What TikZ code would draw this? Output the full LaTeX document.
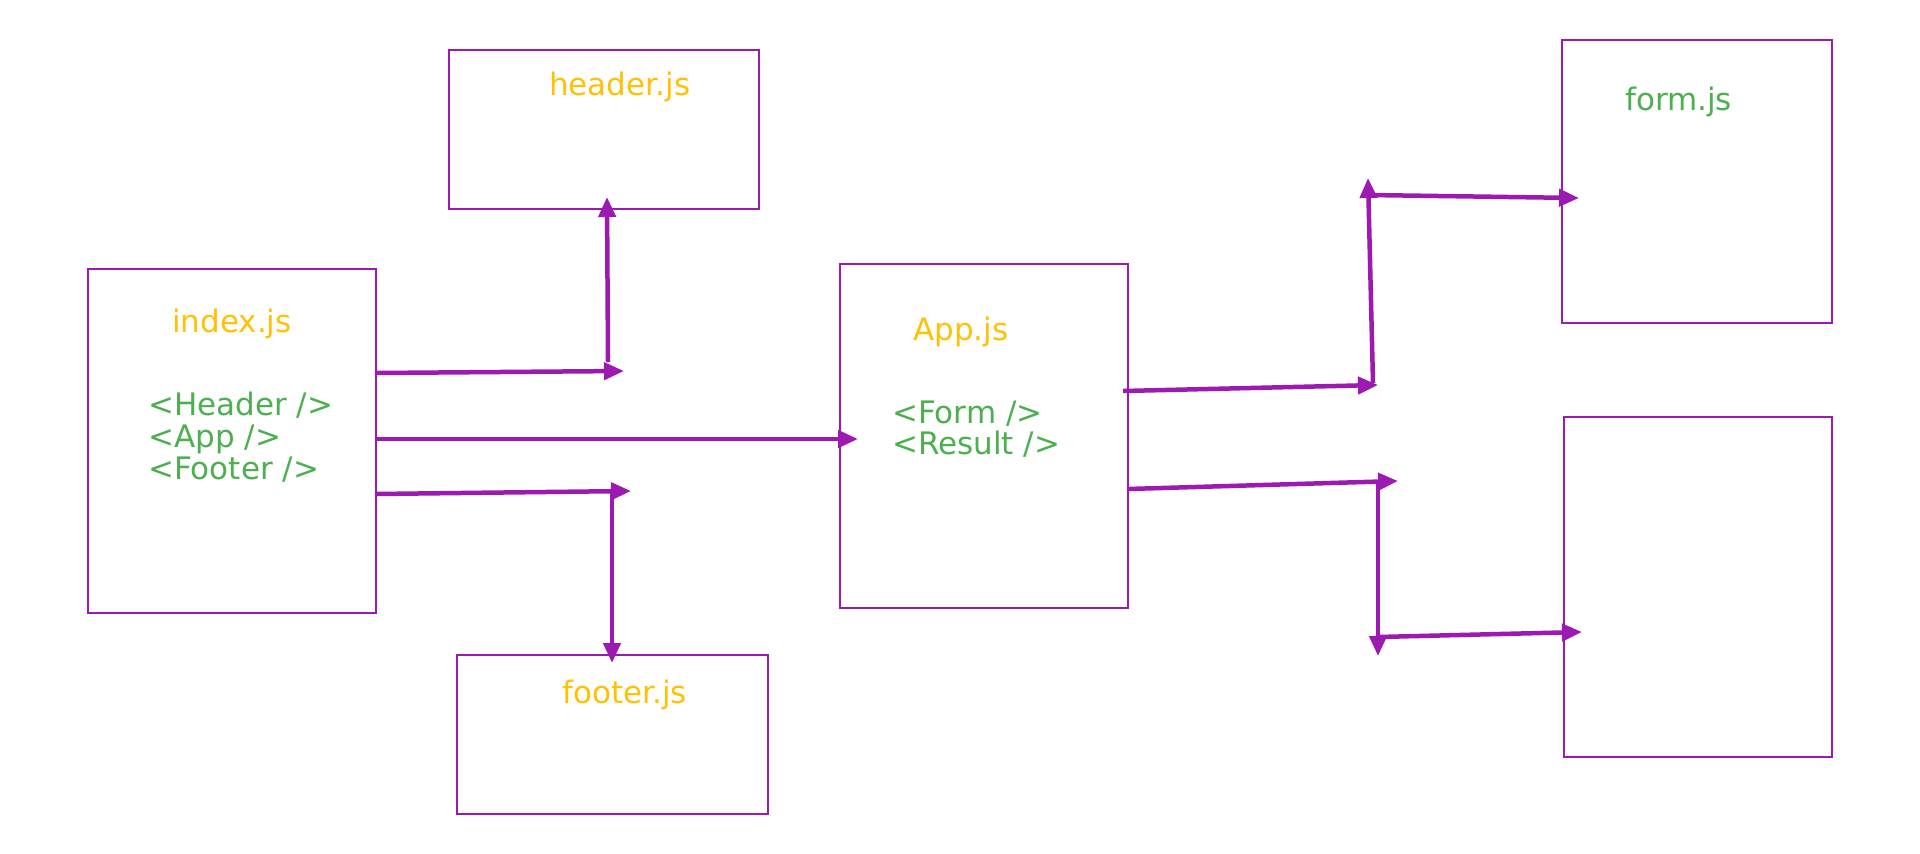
\documentclass[tikz,border=0pt]{standalone}
\usepackage{fontspec}
\setmainfont{DejaVu Sans}
\usetikzlibrary{arrows.meta}
\definecolor{pur}{HTML}{9C1AB1}
\definecolor{amb}{HTML}{FFC107}
\definecolor{grn}{HTML}{4CAF50}
\tikzset{
  box/.style={draw=pur, line width=1.8pt, inner sep=0pt, outer sep=0pt, anchor=north west, fill=white},
  conn/.style={draw=pur, line width=4.5pt, -{Triangle[length=20pt,width=17pt]}},
  title/.style={text=amb, anchor=base west, inner sep=0pt, font=\fontsize{31pt}{32pt}\selectfont},
  ftitle/.style={text=grn, anchor=base west, inner sep=0pt, font=\fontsize{31pt}{32pt}\selectfont},
  code/.style={text=grn, anchor=base west, inner sep=0pt, font=\fontsize{31pt}{32pt}\selectfont},
}
\begin{document}
\begin{tikzpicture}[x=1pt,y=-1pt]
\useasboundingbox[fill=white] (0,0) rectangle (1920,854);
% boxes
\node[box, minimum width=288pt, minimum height=344pt] (index) at (88,269) {};
\node[box, minimum width=310pt, minimum height=159pt] (header) at (449,50) {};
\node[box, minimum width=311pt, minimum height=159pt] (footer) at (457,655) {};
\node[box, minimum width=288pt, minimum height=344pt] (app) at (840,264) {};
\node[box, minimum width=270pt, minimum height=283pt] (form) at (1562,40) {};
\node[box, minimum width=268pt, minimum height=340pt] (result) at (1564,417) {};
% texts
\node[title] (tindex) at (172,332) {index.js};
\node[title] (theader) at (549,95) {header.js};
\node[title] (tfooter) at (562,703) {footer.js};
\node[title] (tapp) at (913,340) {App.js};
\node[ftitle] (tform) at (1625,110) {form.js};
\node[code] (c1) at (148,415) {<Header />};
\node[code] (c2) at (148,447) {<App />};
\node[code] (c3) at (148,479) {<Footer />};
\node[code] (c4) at (892,423) {<Form />};
\node[code] (c5) at (892,454) {<Result />};
% connector points
\coordinate (i1) at (376,373);
\coordinate (h1) at (624,371);
\coordinate (h2) at (608,362);
\coordinate (h3) at (607,197);
\coordinate (i2) at (376,439);
\coordinate (a0) at (858,439);
\coordinate (i3) at (375,494);
\coordinate (f1) at (631,491);
\coordinate (f2) at (612,491);
\coordinate (f3) at (612,663);
\coordinate (p1) at (1123,391);
\coordinate (p2) at (1378,385);
\coordinate (p3) at (1373,383);
\coordinate (p4) at (1368,178);
\coordinate (p5) at (1368,195);
\coordinate (p6) at (1579,198);
\coordinate (q1) at (1128,489);
\coordinate (q2) at (1398,481);
\coordinate (q3) at (1378,482);
\coordinate (q4) at (1378,656);
\coordinate (q5) at (1378,637);
\coordinate (q6) at (1582,632);
% connectors
\draw[conn] (i1) -- (h1);
\draw[conn] (h2) -- (h3);
\draw[conn] (i2) -- (a0);
\draw[conn] (i3) -- (f1);
\draw[conn] (f2) -- (f3);
\draw[conn] (p1) -- (p2);
\draw[conn] (p3) -- (p4);
\draw[conn] (p5) -- (p6);
\draw[conn] (q1) -- (q2);
\draw[conn] (q3) -- (q4);
\draw[conn] (q5) -- (q6);
\end{tikzpicture}
\end{document}
